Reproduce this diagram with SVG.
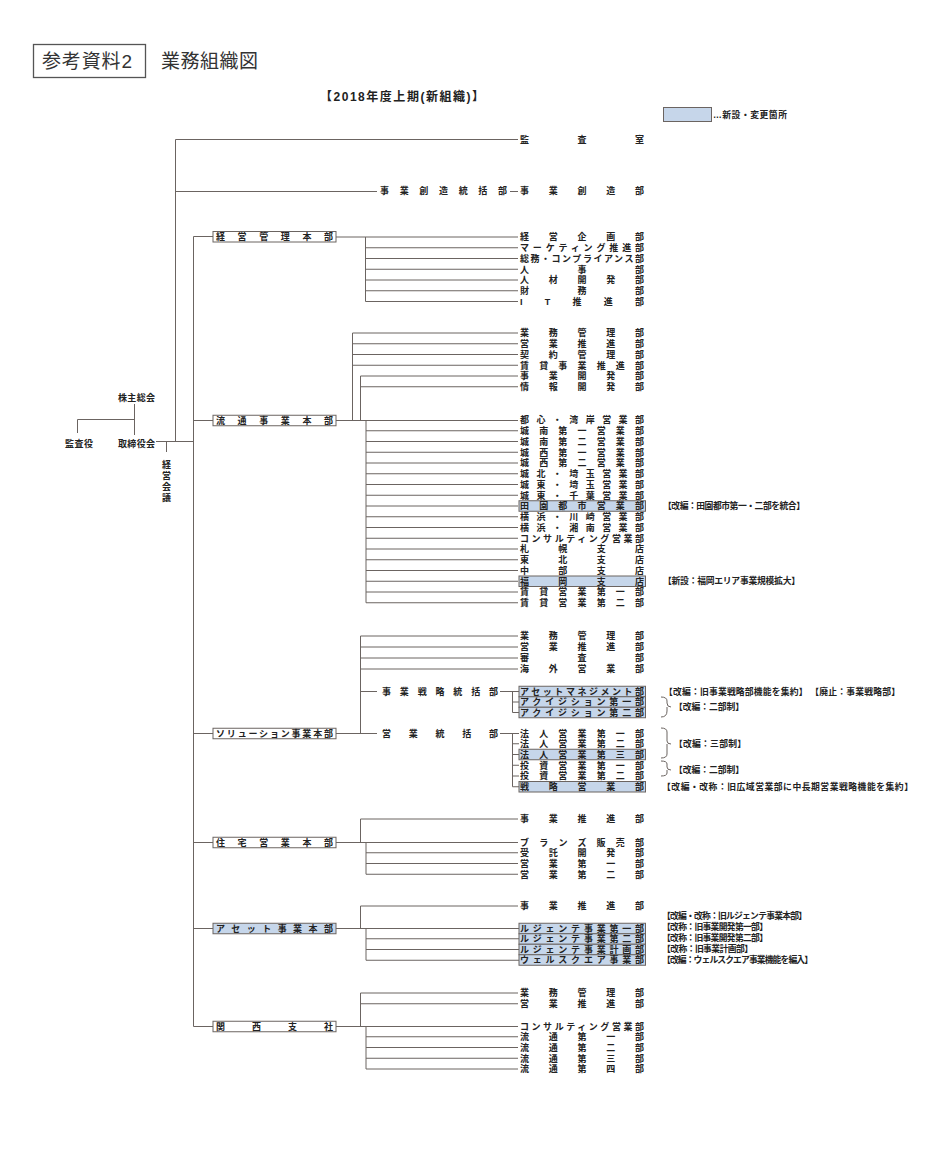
<svg xmlns="http://www.w3.org/2000/svg" width="940" height="1150" viewBox="0 0 940 1150">
<style>
.ln{stroke:#6b6461;stroke-width:1;fill:none}
.bx{fill:#fff;stroke:#6b6461;stroke-width:1}
.hl{fill:#c6d6ea;stroke:#6b6461;stroke-width:1}
text{font-family:"Liberation Sans","Noto Sans CJK JP",sans-serif;fill:#222}
.t{font-size:9px;font-weight:700}
.a{font-size:8.8px;font-weight:700}
.h{font-size:19px;font-weight:400;fill:#333}
.s{font-size:12px;font-weight:700}
</style>
<rect width="940" height="1150" fill="#fff"/>
<g id="title">
<rect x="33.5" y="44.5" width="112" height="33" fill="none" stroke="#555" stroke-width="1.3"/>
<text class="h" x="42" y="68" textLength="90">参考資料2</text>
<text class="h" x="161" y="68" textLength="97">業務組織図</text>
<text class="s" x="320" y="101" textLength="164">【2018年度上期(新組織)】</text>
</g>
<g id="legend">
<rect class="hl" x="663.5" y="107.5" width="48" height="14"/>
<text class="a" x="713" y="118" textLength="74">…新設・変更箇所</text>
</g>
<g id="connectors">
<path class="ln" d="M134.5,404 V435 M77.5,419.5 H134.5 M77.5,419.5 V433 M156,441.5 H193.5 M166.5,441.5 V452"/>
<path class="ln" d="M175.5,139.5 V441.5 M175.5,139.5 H518 M175.5,191.5 H377 M510,191.5 H518"/>
<path class="ln" d="M213,236.5 H193.5 V1026.5 H213 M193.5,420.5 H213 M193.5,733.5 H213 M193.5,842.5 H213 M193.5,928.5 H213"/>
<path class="ln" d="M336,237 H518 M365.5,237 V301.5 M365.5,247.75 H518 M365.5,258.5 H518 M365.5,269.25 H518 M365.5,280 H518 M365.5,290.75 H518 M365.5,301.5 H518"/>
<path class="ln" d="M336,420.5 H518 M352.5,333 V420.5 M352.5,333 H518 M352.5,343.75 H518 M352.5,354.5 H518 M352.5,365.25 H518 M360.5,376 V420.5 M360.5,376 H518 M360.5,386.75 H518"/>
<path class="ln" d="M366,420.5 V602.75 M366,430.75 H518 M366,441.5 H518 M366,452.25 H518 M366,463 H518 M366,473.75 H518 M366,484.5 H518 M366,495.25 H518 M366,506 H518 M366,516.75 H518 M366,527.5 H518 M366,538.25 H518 M366,549 H518 M366,559.75 H518 M366,570.5 H518 M366,581.25 H518 M366,592 H518 M366,602.75 H518"/>
<path class="ln" d="M336,733.5 H377 M360.5,636 V733.5 M360.5,636 H518 M360.5,647 H518 M360.5,658 H518 M360.5,669 H518 M360.5,691.5 H377 M500,691.5 H519 M512.5,691.5 V712.5 M512.5,702 H519 M512.5,712.5 H519 M500,733.5 H519 M512.5,733.5 V786.75 M512.5,743.75 H519 M512.5,754.5 H519 M512.5,765.25 H519 M512.5,776 H519 M512.5,786.75 H519"/>
<path class="ln" d="M336,842.5 H518 M360.5,819 V842.5 M360.5,819 H518 M366,842.5 V874.25 M366,852.75 H518 M366,863.5 H518 M366,874.25 H518"/>
<path class="ln" d="M336,928.5 H519 M360.5,906 V928.5 M360.5,906 H518 M366,928.5 V960.25 M366,938.75 H519 M366,949.5 H519 M366,960.25 H519"/>
<path class="ln" d="M336,1026.5 H518 M360.5,993 V1026.5 M360.5,993 H518 M360.5,1003.75 H518 M366,1026.5 V1069 M366,1036.75 H518 M366,1047.5 H518 M366,1058.25 H518 M366,1069 H518"/>
<path class="ln" d="M661,697 q6,0 6,4 v2 q0,4 4,4 m-4,0 v4 q0,6 -6,6 M661,728 q6,0 6,4 v9 q0,3 4,3 m-4,0 v10 q0,4 -6,4 M661,761 q6,0 6,3 v3 q0,3 4,3 m-4,0 v3 q0,3 -6,3"/>
</g>
<g id="top-nodes">
<g id="kabunushi"><text class="t" x="118" y="401" textLength="37">株主総会</text></g>
<g id="kansayaku"><text class="t" x="65" y="447" textLength="28">監査役</text></g>
<g id="torishimari"><text class="t" x="118" y="447" textLength="37">取締役会</text></g>
<g id="keiei-kaigi"><text class="t" text-anchor="middle"><tspan x="166.5" y="468">経</tspan><tspan x="166.5" y="479">営</tspan><tspan x="166.5" y="490">会</tspan><tspan x="166.5" y="501">議</tspan></text></g>
<g id="kansa-shitsu"><text class="t" x="520" y="143.4" textLength="124">監査室</text></g>
<g id="jigyo-sozo-tokatsu"><text class="t" x="380" y="194.4" textLength="127">事業創造統括部</text></g>
<g id="jigyo-sozo"><text class="t" x="520" y="194.4" textLength="124">事業創造部</text></g>
</g>
<g id="hq-keiei">
<rect class="bx" x="213" y="231.5" width="123" height="10.5"/>
<text class="t" x="216" y="240.1" textLength="117">経営管理本部</text>
</g>
<g id="keiei-children">
<text class="t" x="520" y="240.4" textLength="124">経営企画部</text>
<text class="t" x="520" y="251.15" textLength="124">マーケティング推進部</text>
<text class="t" x="520" y="261.9" textLength="124">総務・コンプライアンス部</text>
<text class="t" x="520" y="272.65" textLength="124">人事部</text>
<text class="t" x="520" y="283.4" textLength="124">人材開発部</text>
<text class="t" x="520" y="294.15" textLength="124">財務部</text>
<text class="t" x="520" y="304.9" textLength="124">IT推進部</text>
</g>
<g id="hq-ryutsu">
<rect class="bx" x="213" y="415.25" width="123" height="10.5"/>
<text class="t" x="216" y="423.9" textLength="117">流通事業本部</text>
</g>
<g id="ryutsu-children">
<text class="t" x="520" y="336.4" textLength="124">業務管理部</text>
<text class="t" x="520" y="347.15" textLength="124">営業推進部</text>
<text class="t" x="520" y="357.9" textLength="124">契約管理部</text>
<text class="t" x="520" y="368.65" textLength="124">賃貸事業推進部</text>
<text class="t" x="520" y="379.4" textLength="124">事業開発部</text>
<text class="t" x="520" y="390.15" textLength="124">情報開発部</text>
<text class="t" x="520" y="423.4" textLength="124">都心・湾岸営業部</text>
<text class="t" x="520" y="434.15" textLength="124">城南第一営業部</text>
<text class="t" x="520" y="444.9" textLength="124">城南第二営業部</text>
<text class="t" x="520" y="455.65" textLength="124">城西第一営業部</text>
<text class="t" x="520" y="466.4" textLength="124">城西第二営業部</text>
<text class="t" x="520" y="477.15" textLength="124">城北・埼玉営業部</text>
<text class="t" x="520" y="487.9" textLength="124">城東・埼玉営業部</text>
<text class="t" x="520" y="498.65" textLength="124">城東・千葉営業部</text>
<g id="denen"><rect class="hl" x="519" y="500.75" width="126.5" height="10.5"/>
<text class="t" x="520" y="509.4" textLength="124">田園都市営業部</text></g>
<text class="t" x="520" y="520.15" textLength="124">横浜・川崎営業部</text>
<text class="t" x="520" y="530.9" textLength="124">横浜・湘南営業部</text>
<text class="t" x="520" y="541.65" textLength="124">コンサルティング営業部</text>
<text class="t" x="520" y="552.4" textLength="124">札幌支店</text>
<text class="t" x="520" y="563.15" textLength="124">東北支店</text>
<text class="t" x="520" y="573.9" textLength="124">中部支店</text>
<g id="fukuoka"><rect class="hl" x="519" y="576" width="126.5" height="10.5"/>
<text class="t" x="520" y="584.65" textLength="124">福岡支店</text></g>
<text class="t" x="520" y="595.4" textLength="124">賃貸営業第一部</text>
<text class="t" x="520" y="606.15" textLength="124">賃貸営業第二部</text>
</g>
<g id="hq-solution">
<rect class="bx" x="213" y="728.25" width="123" height="10.5"/>
<text class="t" x="216" y="736.9" textLength="117">ソリューション事業本部</text>
</g>
<g id="solution-children">
<text class="t" x="520" y="639.4" textLength="124">業務管理部</text>
<text class="t" x="520" y="650.4" textLength="124">営業推進部</text>
<text class="t" x="520" y="661.4" textLength="124">審査部</text>
<text class="t" x="520" y="672.4" textLength="124">海外営業部</text>
<text class="t" x="382" y="694.9" textLength="116">事業戦略統括部</text>
<text class="t" x="382" y="736.9" textLength="116">営業統括部</text>
<rect class="hl" x="519" y="686.25" width="126.5" height="10.5"/>
<rect class="hl" x="519" y="696.75" width="126.5" height="10.5"/>
<rect class="hl" x="519" y="707.25" width="126.5" height="10.5"/>
<text class="t" x="520" y="694.9" textLength="124">アセットマネジメント部</text>
<text class="t" x="520" y="705.4" textLength="124">アクイジション第一部</text>
<text class="t" x="520" y="715.9" textLength="124">アクイジション第二部</text>
<text class="t" x="520" y="736.9" textLength="124">法人営業第一部</text>
<text class="t" x="520" y="747.15" textLength="124">法人営業第二部</text>
<rect class="hl" x="519" y="749.25" width="126.5" height="10.5"/>
<text class="t" x="520" y="757.9" textLength="124">法人営業第三部</text>
<text class="t" x="520" y="768.65" textLength="124">投資営業第一部</text>
<text class="t" x="520" y="779.4" textLength="124">投資営業第二部</text>
<rect class="hl" x="519" y="781.5" width="126.5" height="10.5"/>
<text class="t" x="520" y="790.15" textLength="124">戦略営業部</text>
</g>
<g id="hq-jutaku">
<rect class="bx" x="213" y="837.25" width="123" height="10.5"/>
<text class="t" x="216" y="845.9" textLength="117">住宅営業本部</text>
</g>
<g id="jutaku-children">
<text class="t" x="520" y="822.4" textLength="124">事業推進部</text>
<text class="t" x="520" y="845.9" textLength="124">ブランズ販売部</text>
<text class="t" x="520" y="856.15" textLength="124">受託開発部</text>
<text class="t" x="520" y="866.9" textLength="124">営業第一部</text>
<text class="t" x="520" y="877.65" textLength="124">営業第二部</text>
</g>
<g id="hq-asset">
<rect class="hl" x="213" y="923.25" width="123" height="10.5"/>
<text class="t" x="216" y="931.9" textLength="117">アセット事業本部</text>
</g>
<g id="asset-children">
<text class="t" x="520" y="909.4" textLength="124">事業推進部</text>
<rect class="hl" x="519" y="923.25" width="126.5" height="10.5"/>
<rect class="hl" x="519" y="933.75" width="126.5" height="10.5"/>
<rect class="hl" x="519" y="944.25" width="126.5" height="10.5"/>
<rect class="hl" x="519" y="954.75" width="126.5" height="10.5"/>
<text class="t" x="520" y="931.9" textLength="124">ルジェンテ事業第一部</text>
<text class="t" x="520" y="942.4" textLength="124">ルジェンテ事業第二部</text>
<text class="t" x="520" y="952.9" textLength="124">ルジェンテ事業計画部</text>
<text class="t" x="520" y="963.4" textLength="124">ウェルスクエア事業部</text>
</g>
<g id="hq-kansai">
<rect class="bx" x="213" y="1021.25" width="123" height="10.5"/>
<text class="t" x="216" y="1029.9" textLength="117">関西支社</text>
</g>
<g id="kansai-children">
<text class="t" x="520" y="996.4" textLength="124">業務管理部</text>
<text class="t" x="520" y="1007.15" textLength="124">営業推進部</text>
<text class="t" x="520" y="1029.9" textLength="124">コンサルティング営業部</text>
<text class="t" x="520" y="1040.15" textLength="124">流通第一部</text>
<text class="t" x="520" y="1050.9" textLength="124">流通第二部</text>
<text class="t" x="520" y="1061.65" textLength="124">流通第三部</text>
<text class="t" x="520" y="1072.4" textLength="124">流通第四部</text>
</g>
<g id="notes">
<text class="a" x="663" y="509.2" textLength="142">【改編：田園都市第一・二部を統合】</text>
<text class="a" x="663" y="584.4" textLength="137">【新設：福岡エリア事業規模拡大】</text>
<text class="a" x="664" y="694.6" textLength="236">【改編：旧事業戦略部機能を集約】 【廃止：事業戦略部】</text>
<text class="a" x="674" y="710.1" textLength="70">【改編：二部制】</text>
<text class="a" x="674" y="747.1" textLength="72">【改編：三部制】</text>
<text class="a" x="674" y="773.1" textLength="70">【改編：二部制】</text>
<text class="a" x="662" y="790.1" textLength="251">【改編・改称：旧広域営業部に中長期営業戦略機能を集約】</text>
<text class="a" x="662" y="919.1" textLength="145">【改編・改称：旧ルジェンテ事業本部】</text>
<text class="a" x="662" y="930.1" textLength="106">【改称：旧事業開発第一部】</text>
<text class="a" x="662" y="941.1" textLength="106">【改称：旧事業開発第二部】</text>
<text class="a" x="662" y="952.1" textLength="91">【改称：旧事業計画部】</text>
<text class="a" x="662" y="963.1" textLength="151">【改編：ウェルスクエア事業機能を編入】</text>
</g>
</svg>
